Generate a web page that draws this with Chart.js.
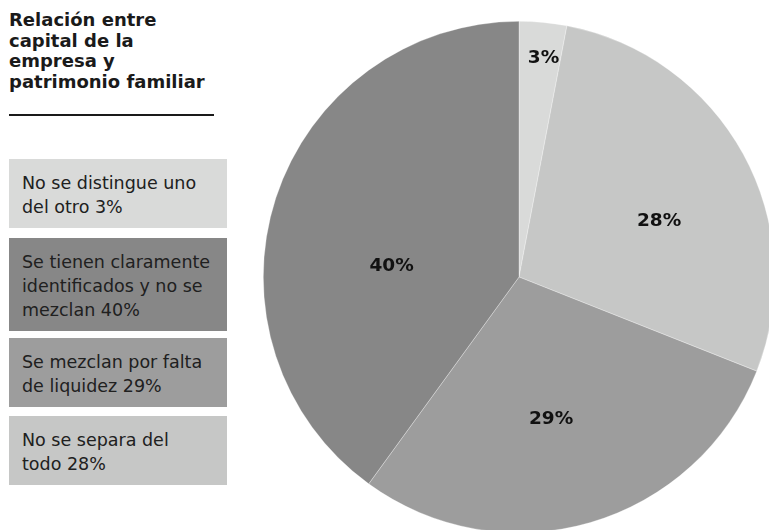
<!DOCTYPE html>
<html>
<head>
<meta charset="utf-8">
<script src="https://cdn.jsdelivr.net/npm/chart.js@4.4.1/dist/chart.umd.min.js"></script>
<style>
  html, body { margin: 0; padding: 0; background: #fff; }
  body { width: 769px; height: 530px; overflow: hidden; position: relative; font-family: "DejaVu Sans", sans-serif; color: #1c1c1c; }
  #title { position: absolute; left: 9px; top: 10px; width: 240px; font-weight: bold; font-size: 18px; line-height: 20.5px; color: #1a1a1a; white-space: pre; }
  #rule { position: absolute; left: 9px; top: 114px; width: 205px; height: 2px; background: #1a1a1a; }
  .box { position: absolute; left: 9px; width: 218px; box-sizing: border-box; padding: 12px 0 0 13px; font-size: 17.5px; line-height: 24px; white-space: pre; color: #202020; }
  #pie-wrap { position: absolute; left: 263px; top: 21px; width: 512px; height: 512px; }
</style>
</head>
<body>
<div id="title">Relación entre
capital de la
empresa y
patrimonio familiar</div>
<div id="rule"></div>
<div id="legend"></div>
<div id="pie-wrap"><canvas id="chart-pie" width="512" height="512"></canvas></div>
<script>
var labels = [
  "No se distingue uno\ndel otro",
  "No se separa del\ntodo",
  "Se mezclan por falta\nde liquidez",
  "Se tienen claramente\nidentificados y no se\nmezclan"
];
var values = [3, 28, 29, 40];
var colors = ["#d9dad9", "#c6c7c6", "#9d9d9d", "#878787"];

// legend boxes on the left, in the order of the original
var legendOrder = [0, 3, 2, 1];
var legendBoxes = [
  { top: 159, height: 69 },
  { top: 238, height: 93 },
  { top: 338, height: 69 },
  { top: 416, height: 69 }
];

var legendEl = document.getElementById("legend");
legendOrder.forEach(function (idx, i) {
  var div = document.createElement("div");
  div.className = "box";
  div.style.top = legendBoxes[i].top + "px";
  div.style.height = legendBoxes[i].height + "px";
  div.style.background = colors[idx];
  div.textContent = labels[idx] + " " + values[idx] + "%";
  legendEl.appendChild(div);
});

// label placement per slice: fraction of radius, angle shift in degrees
var labelSpots = [
  { r: 0.86, shift: 1 },
  { r: 0.59, shift: 7 },
  { r: 0.57, shift: 3.5 },
  { r: 0.50, shift: -13 }
];

var sliceLabels = {
  id: "sliceLabels",
  afterDatasetsDraw: function (chart) {
    var ctx = chart.ctx;
    var meta = chart.getDatasetMeta(0);
    ctx.save();
    ctx.font = "bold 18.5px 'DejaVu Sans', sans-serif";
    ctx.fillStyle = "#111";
    ctx.textAlign = "center";
    ctx.textBaseline = "middle";
    meta.data.forEach(function (arc, i) {
      var p = arc.getProps(["x", "y", "startAngle", "endAngle", "outerRadius"], true);
      var a = (p.startAngle + p.endAngle) / 2 + labelSpots[i].shift * Math.PI / 180;
      var rr = p.outerRadius * labelSpots[i].r;
      ctx.fillText(values[i] + "%", p.x + Math.cos(a) * rr, p.y + Math.sin(a) * rr);
    });
    ctx.restore();
  }
};

new Chart(document.getElementById("chart-pie"), {
  type: "pie",
  data: {
    labels: labels,
    datasets: [
      {
        data: values,
        backgroundColor: colors,
        borderColor: "rgba(255,255,255,0.5)",
        borderWidth: 0.6
      }
    ]
  },
  options: {
    responsive: false,
    animation: false,
    layout: { padding: 0 },
    plugins: {
      legend: { display: false },
      tooltip: { enabled: false }
    }
  },
  plugins: [sliceLabels]
});
</script>
</body>
</html>
